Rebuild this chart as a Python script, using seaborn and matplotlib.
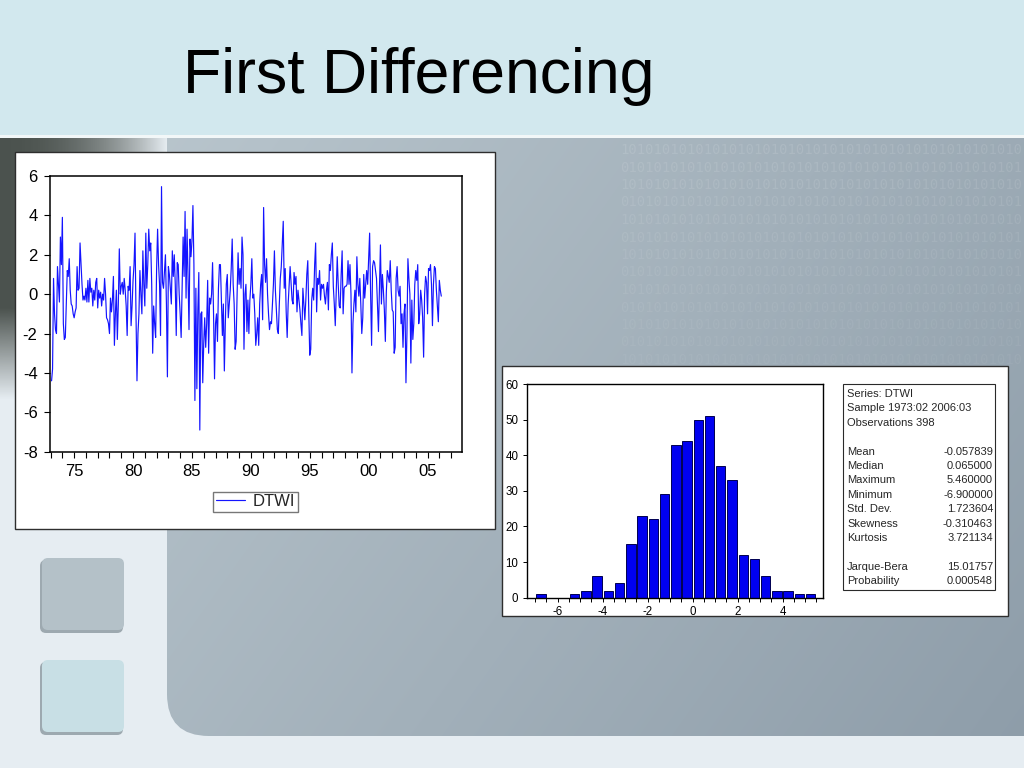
import numpy as np
import pandas as pd
import matplotlib
matplotlib.use("Agg")
import matplotlib.pyplot as plt
import seaborn as sns
from matplotlib.patches import Rectangle, FancyBboxPatch
from matplotlib.ticker import FixedLocator, MultipleLocator, FuncFormatter
from matplotlib import font_manager

# ---------------- data ----------------
title_text = "First Differencing"
series_name = "DTWI"
start_period = "1973-02"

# monthly first differences, 1973:02 .. 2006:03 (one row per year)
dtwi = [
    -4.4, -3.8, 0.8, -1.0, -1.8, -2.0, 1.4, 0.5, -0.4, 2.9, 1.5,
    3.9, -1.5, -2.3, -2.2, -0.5, 1.2, 0.9, 1.8, 0.2, -0.5, -0.6, -1.0,
    -1.2, -0.9, -0.7, 1.4, 0.2, 0.3, 2.6, 1.5, 0.5, -0.3, -0.1, -0.3,
    0.3, -0.4, 0.7, -0.4, 0.8, 0.1, 0.3, -0.6, 0.2, -0.3, 0.6, 0.8,
    -0.7, 0.2, -0.2, 0.1, -0.6, 0.0, -0.3, 0.8, 0.0, -1.2, -1.3, -1.5,
    -2.0, -0.2, -0.9, -0.3, 0.9, -2.6, -1.0, 0.2, -2.3, -0.5, 2.3, 0.0,
    0.4, 0.6, 0.0, 0.8, 0.2, -0.6, -2.1, 0.4, 0.2, 1.4, -1.6, -0.6,
    0.7, 1.5, 3.1, -1.0, -4.4, -2.0, -1.0, 1.2, 0.0, -1.0, 2.2, 0.5,
    -0.6, 3.1, 0.3, 1.5, 3.3, 2.2, 2.6, 0.5, -3.0, -0.6, -1.5, -2.2,
    1.3, 3.3, 1.5, 0.5, -2.1, 5.46, 0.6, 0.3, 1.2, 2.0, -0.5, -4.2,
    1.4, 1.0, 0.3, -0.5, 2.2, 0.9, 2.0, 0.5, -2.1, 1.6, 1.5, 0.0,
    -1.0, -2.2, 0.5, 2.9, 0.9, 4.2, -0.2, 3.3, 0.9, -1.8, 2.8, 1.9,
    2.7, 4.5, 1.5, -5.4, 0.3, -4.8, -0.8, 1.1, -6.9, -1.0, -0.9, -4.5,
    -2.5, -1.2, -2.7, -1.5, 0.7, -3.0, -0.2, -0.5, 0.0, 1.6, -1.0, -4.3,
    -1.5, -1.0, -2.4, 0.3, 1.5, 1.5, -0.3, -2.1, -0.5, -3.9, -1.5, 0.5,
    1.0, -1.2, -0.5, 0.2, 1.3, 2.8, 0.5, -0.5, -2.8, -2.4, 0.0, 2.1,
    0.5, 1.3, 0.3, 2.9, 2.0, -2.8, 0.0, 0.5, -1.9, -0.3, -2.0, -0.3,
    0.5, 1.8, -0.2, 0.0, -1.0, -2.6, -2.0, -1.2, -2.6, -0.5, 0.5, 1.0,
    -1.3, 4.4, 1.5, 0.6, 1.8, 0.0, -1.0, -1.8, -1.4, -1.5, -0.5, 0.5,
    2.2, 0.2, -0.8, -1.8, -2.0, -0.5, 0.8, 1.4, 2.5, 3.7, 0.3, 1.3,
    -0.9, -2.2, -0.5, 0.5, 1.4, 0.5, -0.3, -0.5, 1.1, 0.5, 0.9, -0.9,
    0.2, -0.3, -0.8, -1.5, -2.1, 0.3, -0.5, -1.3, -0.3, 1.0, 1.7, -0.9,
    -3.1, -2.8, -0.3, 0.3, -0.3, 1.5, 2.6, -0.9, 0.8, 0.5, 1.2, -0.3,
    0.5, 0.3, 0.5, -0.1, -0.5, 0.2, 0.6, -0.8, 1.5, 1.2, 2.0, 2.6,
    0.4, -0.5, -1.6, 0.2, 1.9, 0.5, -0.6, -0.7, 1.0, 2.2, -1.0, 0.3,
    0.4, 0.4, 0.5, 1.7, 0.5, 1.5, 0.0, -4.0, -1.5, -0.5, 0.2, -0.9,
    1.9, 0.5, -0.1, 0.8, -0.5, -2.0, -1.2, 1.0, -0.2, 0.5, 1.2, 0.5,
    1.8, 3.1, 0.0, -2.6, 1.4, 1.7, 1.6, 1.2, 0.8, -0.5, -1.9, 0.4,
    2.5, -0.5, 1.0, 0.2, -0.8, -2.4, 0.1, 1.2, 0.9, 0.6, 1.7, 0.2,
    -0.8, -0.9, -3.0, -2.7, 0.8, 1.4, 0.2, -0.1, 0.4, -1.5, -1.0, -2.7,
    -1.0, -0.5, -4.5, -2.0, 1.8, 0.8, 0.0, -3.5, -0.3, -2.3, -1.5, 0.5,
    1.2, 0.7, 1.5, -1.5, -1.0, 0.2, -0.3, -1.2, -3.2, 0.0, 0.9, 0.6,
    -1.0, 1.3, 1.2, 1.5, 0.5, -1.6, 0.5, 1.4, 1.3, 0.2, -0.6, -1.4,
    0.7, 0.2, -0.1,
]

line_yticks = [-8, -6, -4, -2, 0, 2, 4, 6]
line_xticks = [1975, 1980, 1985, 1990, 1995, 2000, 2005]

hist_first_edge = -7.0
hist_bin_width = 0.5
hist_counts = [1, 0, 0, 1, 2, 6, 2, 4, 15, 23, 22, 29, 43, 44, 50, 51,
               37, 33, 12, 11, 6, 2, 2, 1, 1]
hist_xticks = [-6, -4, -2, 0, 2, 4]
hist_yticks = [0, 10, 20, 30, 40, 50, 60]

stats_header = ["Series: DTWI", "Sample 1973:02 2006:03", "Observations 398"]
stats_labels = ["Mean", "Median", "Maximum", "Minimum", "Std. Dev.",
                "Skewness", "Kurtosis"]
stats_values = ["-0.057839", "0.065000", "5.460000", "-6.900000",
                "1.723604", "-0.310463", "3.721134"]
test_labels = ["Jarque-Bera", "Probability"]
test_values = ["15.01757", "0.000548"]

# ---------------- style ----------------
sns.set_style("ticks")
plt.rcParams["font.family"] = ["Liberation Sans", "DejaVu Sans"]
plt.rcParams["axes.unicode_minus"] = False


def has_font(name):
    try:
        font_manager.findfont(name, fallback_to_default=False)
        return True
    except Exception:
        return False


W, H = 1024, 768
fig = plt.figure(figsize=(W / 100, H / 100), dpi=100)

# ---------------- slide background ----------------
bg = fig.add_axes([0, 0, 1, 1], zorder=-10)
bg.set_xlim(0, W)
bg.set_ylim(H, 0)
bg.axis("off")

# light base (left column and bottom strip)
bg.add_patch(Rectangle((0, 0), W, H, fc="#e6edf2", ec="none", zorder=0))

# dark shadow in the upper part of the left column
sx = np.linspace(0, 1, 200)
sy = np.linspace(0, 1, 200)
SX, SY = np.meshgrid(sx, sy)
wx = np.clip(1 - SX ** 2.2, 0, 1)
wy = np.clip((1 - SY) / 0.35, 0, 1)
alpha = wx * wy
shadow = np.zeros((200, 200, 4))
shadow[..., 0] = 0.24
shadow[..., 1] = 0.27
shadow[..., 2] = 0.25
shadow[..., 3] = alpha * 0.92
bg.imshow(shadow, extent=(0, 168, 400, 138), aspect="auto", zorder=1, interpolation="bilinear")

# main blue-grey region with rounded bottom-left corner
main_clip = FancyBboxPatch((167, 60), 1000, 676, boxstyle="round,pad=0,rounding_size=42",
                           fc="none", ec="none", transform=bg.transData)
bg.add_patch(main_clip)
mx = np.linspace(0, 1, 300)
my = np.linspace(0, 1, 300)
MX, MY = np.meshgrid(mx, my)
t = np.clip(0.6 * MX + 0.3 * MY, 0, 1)
c_a = np.array([0.72, 0.77, 0.80])
c_b = np.array([0.54, 0.60, 0.65])
img2 = c_a[None, None, :] * (1 - t[..., None]) + c_b[None, None, :] * t[..., None]
im2 = bg.imshow(img2, extent=(167, W, 736, 138), aspect="auto", zorder=2, interpolation="bilinear")
im2.set_clip_path(main_clip)

# faint binary pattern in the upper right
row_ys = np.arange(150, 368, 17.5)
for k, yy in enumerate(row_ys):
    txt = ("10" * 25)[k % 2:k % 2 + 48]
    a = 0.11 - 0.005 * k
    bg.text(1022, yy, txt, ha="right", va="center", fontsize=10,
            family=["DejaVu Sans Mono"], color="white", alpha=a, zorder=3)

# header
bg.add_patch(Rectangle((0, 0), W, 135, fc="#d2e8ee", ec="none", zorder=4))
bg.add_patch(Rectangle((0, 135), W, 3, fc="#f2f7f8", ec="none", zorder=4))

# rounded buttons on the left
for yb, fc in ((558, "#b4c1c8"), (660, "#c8dfe5")):
    bg.add_patch(FancyBboxPatch((40, yb + 2), 83, 73, boxstyle="round,pad=0,rounding_size=6",
                                fc="#7f8c94", ec="none", alpha=0.7, zorder=4))
    bg.add_patch(FancyBboxPatch((42, yb), 82, 72, boxstyle="round,pad=0,rounding_size=6",
                                fc=fc, ec="none", zorder=5))

# title
if has_font("Liberation Sans Narrow"):
    title_family, title_size = ["Liberation Sans Narrow", "Liberation Sans"], 52
else:
    title_family, title_size = ["Liberation Sans", "DejaVu Sans"], 45
bg.text(183, 93, title_text, fontsize=title_size, family=title_family,
        color="black", ha="left", va="baseline", zorder=6)

# white panels
bg.add_patch(Rectangle((15, 152), 480, 377, fc="white", ec="#2e2e2e", lw=1.0, zorder=6))
bg.add_patch(Rectangle((502, 366), 506, 250, fc="white", ec="#2e2e2e", lw=1.0, zorder=6))
bg.add_patch(Rectangle((843, 384), 152, 206, fc="white", ec="#2a2a2a", lw=0.8, zorder=7))

# stats text
stat_fs = 8.0
y0 = 394
step = 14.4
for i, s in enumerate(stats_header):
    bg.text(847, y0 + i * step, s, fontsize=stat_fs, va="center", ha="left", zorder=8)
for i, (lab, val) in enumerate(zip(stats_labels, stats_values)):
    yy = y0 + (4 + i) * step
    bg.text(847, yy, lab, fontsize=stat_fs, va="center", ha="left", zorder=8)
    bg.text(993, yy, val, fontsize=stat_fs, va="center", ha="right", zorder=8)
for i, (lab, val) in enumerate(zip(test_labels, test_values)):
    yy = y0 + (12 + i) * step
    bg.text(847, yy, lab, fontsize=stat_fs, va="center", ha="left", zorder=8)
    bg.text(993, yy, val, fontsize=stat_fs, va="center", ha="right", zorder=8)

# ---------------- line chart ----------------
periods = pd.period_range(start_period, periods=len(dtwi), freq="M")
df = pd.DataFrame({
    "time": periods.year + (periods.month - 1) / 12.0,
    series_name: dtwi,
})

ax1 = fig.add_axes([50 / W, 1 - 451.7 / H, 412.3 / W, 275.7 / H])
ax1.set_facecolor("white")
sns.lineplot(data=df, x="time", y=series_name, ax=ax1, color="#1414ff",
             linewidth=0.85, label=series_name)
ax1.set_xlim(1972.95, 2007.95)
ax1.set_ylim(-8, 6)
ax1.yaxis.set_major_locator(FixedLocator(line_yticks))
ax1.xaxis.set_major_locator(FixedLocator(line_xticks))
ax1.xaxis.set_minor_locator(MultipleLocator(1))
ax1.xaxis.set_major_formatter(FuncFormatter(lambda v, p: f"{int(round(v)) % 100:02d}"))
ax1.tick_params(which="both", direction="out", length=4, width=0.8, colors="black",
                labelsize=12, pad=5)
ax1.set_xlabel("")
ax1.set_ylabel("")
for sp in ax1.spines.values():
    sp.set_visible(True)
    sp.set_linewidth(1.1)
    sp.set_color("black")
leg = ax1.legend(loc="center", bbox_to_anchor=(255.5 / W, 1 - 501.5 / H),
                 bbox_transform=fig.transFigure, fontsize=12, frameon=True,
                 fancybox=False, edgecolor="#555555", handlelength=1.75,
                 handletextpad=0.45, borderpad=0.15, borderaxespad=0)
leg.get_frame().set_linewidth(1.0)

# ---------------- histogram ----------------
centers = hist_first_edge + hist_bin_width * (np.arange(len(hist_counts)) + 0.5)
hdf = pd.DataFrame({"value": centers, "count": hist_counts})
bin_lo = hist_first_edge
bin_hi = hist_first_edge + hist_bin_width * len(hist_counts)

ax2 = fig.add_axes([526.7 / W, 1 - 597.7 / H, 296.6 / W, 213.7 / H])
ax2.set_facecolor("white")
sns.histplot(data=hdf, x="value", weights="count", binwidth=hist_bin_width,
             binrange=(bin_lo, bin_hi), ax=ax2,
             color="#0000f0", edgecolor="#000050", linewidth=0.7,
             shrink=0.84, alpha=1.0)
ax2.set_xlim(-7.38, 5.81)
ax2.set_ylim(0, 60)
ax2.xaxis.set_major_locator(FixedLocator(hist_xticks))
ax2.xaxis.set_minor_locator(MultipleLocator(0.5))
ax2.yaxis.set_major_locator(FixedLocator(hist_yticks))
ax2.tick_params(which="both", direction="out", length=3, width=0.7, colors="black",
                labelsize=8.3, pad=3)
ax2.set_xlabel("")
ax2.set_ylabel("")
for sp in ax2.spines.values():
    sp.set_visible(True)
    sp.set_linewidth(1.0)
    sp.set_color("black")

fig.savefig("out.png", dpi=100)
